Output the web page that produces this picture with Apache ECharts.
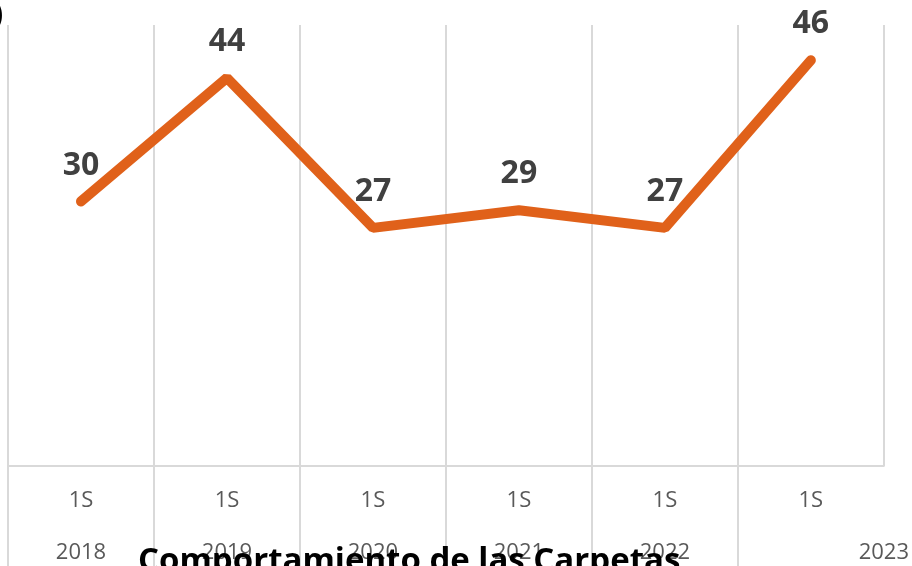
<!DOCTYPE html>
<html>
<head>
<meta charset="utf-8">
<script src="https://cdn.jsdelivr.net/npm/echarts@6/dist/echarts.min.js"></script>
<style>
  html, body { margin: 0; padding: 0; background: #fff; }
  #chart { width: 912px; height: 566px; }
</style>
</head>
<body>
<div id="chart"></div>
<script>
// Semester labels and yearly counts of case files
const periods = ['1S', '1S', '1S', '1S', '1S', '1S'];
const carpetas = [30, 44, 27, 29, 27, 46];
// Year labels on a half-step axis (the last year sits on the right edge)
const yearSlots = ['', '2018', '', '2019', '', '2020', '', '2021', '', '2022', '', '', '2023'];
const chartTitle = 'Comportamiento de las Carpetas';

const gridColor = '#d9d9d9';
const labelFont = "'Open Sans', 'Liberation Sans', sans-serif";

const chart = echarts.init(document.getElementById('chart'), null, { renderer: 'canvas' });
chart.setOption({
  animation: false,
  backgroundColor: '#ffffff',
  title: {
    text: chartTitle,
    left: 133,
    top: 540,
    textStyle: { fontFamily: labelFont, fontWeight: 'bold', fontSize: 33, color: '#000000' }
  },
  graphic: [{
    type: 'text',
    left: -7,
    top: 0,
    style: { text: ')', font: "bold 30px " + labelFont, fill: '#000000' }
  }],
  grid: { left: 8, right: 25, top: 25, bottom: 100 },
  xAxis: [{
    type: 'category',
    data: periods,
    boundaryGap: true,
    axisLine: { show: true, lineStyle: { color: gridColor, width: 2 } },
    axisTick: { show: false },
    splitLine: { show: true, lineStyle: { color: gridColor, width: 2 } },
    axisLabel: { margin: 24, fontFamily: labelFont, fontSize: 22, color: '#595959' }
  }, {
    type: 'category',
    position: 'bottom',
    data: yearSlots,
    boundaryGap: false,
    axisLine: { show: false },
    axisTick: {
      show: true,
      length: 101,
      interval: function (idx) { return idx % 2 === 0 && idx < 12; },
      lineStyle: { color: gridColor, width: 2 }
    },
    axisLabel: {
      interval: 0,
      margin: 76,
      fontFamily: labelFont, fontSize: 22, color: '#595959'
    },
    splitLine: { show: false }
  }],
  yAxis: {
    type: 'value',
    min: 0,
    max: 50,
    show: false,
    splitLine: { show: false }
  },
  series: [{
    type: 'line',
    data: carpetas,
    xAxisIndex: 0,
    symbol: 'circle',
    symbolSize: 0,
    lineStyle: { color: '#E0611A', width: 10, cap: 'round' },
    itemStyle: { color: '#E0611A' },
    label: {
      show: true,
      position: 'top',
      distance: 20,
      fontFamily: labelFont,
      fontWeight: 'bold',
      fontSize: 32,
      color: '#404040'
    }
  }]
});
</script>
</body>
</html>
